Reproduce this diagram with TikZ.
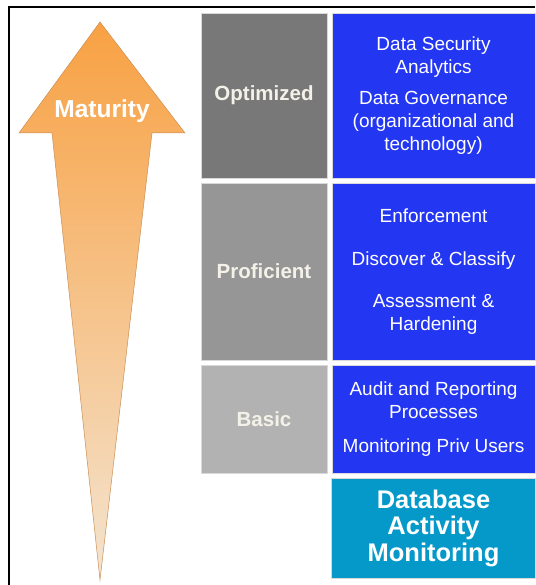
\documentclass[tikz,border=0pt]{standalone}
\usepackage{fontspec}
\setmainfont{Liberation Sans}
\usetikzlibrary{positioning}

\definecolor{grayopt}{HTML}{787878}
\definecolor{grayprof}{HTML}{969696}
\definecolor{graybasic}{HTML}{B2B2B2}
\definecolor{stepblue}{HTML}{2336F2}
\definecolor{damteal}{HTML}{0599CA}
\definecolor{arroworange}{HTML}{F8A143}
\definecolor{arrowmid}{HTML}{F3B474}
\definecolor{arrowpale}{HTML}{F4E4D0}
\definecolor{arrowedge}{HTML}{C98E55}
\definecolor{levelgray}{HTML}{F4F2E8}

\begin{document}
\begin{tikzpicture}[
    x=1pt, y=-1pt,
    node distance=5pt and 5pt,
    level/.style={rectangle, draw=black!15, line width=0.8pt, outer sep=0pt, minimum width=126pt, align=center, text=levelgray, font=\fontsize{20.5}{23}\selectfont\bfseries},
    stepbox/.style={rectangle, draw=black!15, line width=0.8pt, outer sep=0pt, fill=stepblue, minimum width=203pt, align=center, text=white, font=\fontsize{19}{23}\selectfont},
    dambox/.style={rectangle, draw=black!15, line width=0.8pt, outer sep=0pt, fill=damteal, minimum width=204pt, minimum height=100pt, align=center, text=white, font=\fontsize{25.5}{26.5}\selectfont\bfseries}
]
\useasboundingbox (0,0) rectangle (535,585);

% Frame
\draw [line width=1.6pt] (9,585) -- (9,7) -- (535,7);

% Maturity arrow
\shade [top color=arroworange, middle color=arrowmid, bottom color=arrowpale, draw=arrowedge, line width=0.5pt]
    (100,22) -- (185,133) -- (152,133) -- (100,580) -- (52,133) -- (19,133) -- cycle;
\node (maturity) at (102,111) [text=white, font=\fontsize{24.5}{27}\selectfont\bfseries] {Maturity};

% Levels
\node (optimized) [level, fill=grayopt, minimum height=165pt, anchor=north west] at (201,13) {Optimized};
\node (proficient) [level, fill=grayprof, minimum height=177pt, below=of optimized] {Proficient};
\node (basic) [level, fill=graybasic, minimum height=108pt, below=of proficient] {Basic};

% Capabilities
\node (optsteps) [stepbox, minimum height=165pt, right=of optimized]
    {Data Security\\Analytics\\[8pt]Data Governance\\(organizational and\\technology)};
\node (profsteps) [stepbox, minimum height=177pt, right=of proficient]
    {Enforcement\\[20pt]Discover \& Classify\\[19pt]Assessment \&\\Hardening};
\node (basicsteps) [stepbox, minimum height=108pt, right=of basic]
    {Audit and Reporting\\Processes\\[11pt]Monitoring Priv Users};
\node (dam) [dambox, below=of basicsteps] {Database\\Activity\\Monitoring};

\end{tikzpicture}
\end{document}
